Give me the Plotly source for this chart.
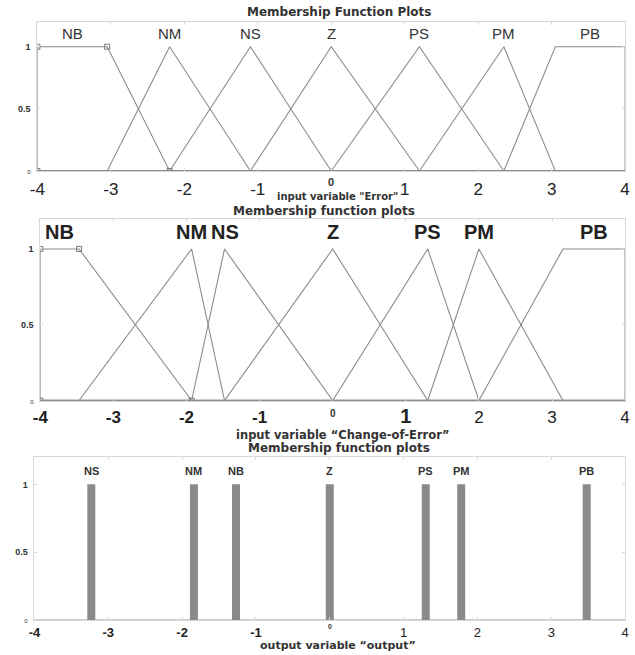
import plotly.graph_objects as go

# ---------------- data ----------------
error_names = ["NB", "NM", "NS", "Z", "PS", "PM", "PB"]
error_params = [[-4, -4, -3.05, -2.2], [-3.05, -2.2, -1.1], [-2.2, -1.1, 0.0],
                [-1.1, 0.0, 1.2], [0.0, 1.2, 2.35], [1.2, 2.35, 3.05], [2.35, 3.05, 4, 4]]

dedt_names = ["NB", "NM", "NS", "Z", "PS", "PM", "PB"]
dedt_params = [[-4, -4, -3.47, -1.93], [-3.47, -1.93, -1.48], [-1.93, -1.48, 0.0],
               [-1.48, 0.0, 1.3], [0.0, 1.3, 2.0], [1.3, 2.0, 3.15], [2.0, 3.15, 4, 4]]

output_names = ["NS", "NM", "NB", "Z", "PS", "PM", "PB"]
output_values = [-3.23, -1.84, -1.27, 0.0, 1.3, 1.78, 3.48]

x_ticks = [-4, -3, -2, -1, 0, 1, 2, 3, 4]
y_ticks = [0, 0.5, 1]
XMIN, XMAX = -4, 4

W, H = 635, 655
LINE = "#8c8c8c"
FONT = "Liberation Sans, Arial, sans-serif"
TFONT = "DejaVu Sans, Verdana, sans-serif"


def mf_curve(p):
    if len(p) == 3:
        a, b, c = p
        return [XMIN, a, b, c, XMAX], [0, 0, 1, 0, 0]
    a, b, c, d = p
    return [XMIN, a, b, c, d, XMAX], [0, 0, 1, 1, 0, 0]


def mf_center(p):
    if len(p) == 3:
        return p[1]
    return (p[1] + p[2]) / 2


def px(xp):
    return xp / W


def py(yp):
    return 1 - yp / H


fig = go.Figure()

panels = [
    dict(xd=(30, 630), yd=(22, 172)),
    dict(xd=(33, 630), yd=(220, 403)),
    dict(xd=(27, 630), yd=(460, 624)),
]

# --- baselines (heavier gray axis at membership 0)
for i, ax in enumerate(["", "2", "3"]):
    fig.add_trace(go.Scatter(x=[XMIN, XMAX], y=[0, 0], mode="lines",
                             line=dict(color="#9a9a9a", width=2 if i < 2 else 1.5),
                             xaxis="x" + ax, yaxis="y" + ax, showlegend=False, hoverinfo="skip"))

# --- panel 1: Error
for name, p in zip(error_names, error_params):
    xs, ys = mf_curve(p)
    fig.add_trace(go.Scatter(x=xs, y=ys, mode="lines", line=dict(color=LINE, width=1.1),
                             xaxis="x", yaxis="y", showlegend=False, hoverinfo="skip"))
    fig.add_annotation(x=mf_center(p), y=1.11, xref="x", yref="y", text=name, showarrow=False,
                       font=dict(family=FONT, size=15, color="#333"))
nb = error_params[0]
fig.add_trace(go.Scatter(x=[nb[0], nb[2], nb[3], nb[0]], y=[1, 1, 0, 0], mode="markers",
                         marker=dict(symbol="square-open", size=5, color="#777"),
                         xaxis="x", yaxis="y", showlegend=False, hoverinfo="skip"))

# --- panel 2: Change-of-Error
for name, p in zip(dedt_names, dedt_params):
    xs, ys = mf_curve(p)
    fig.add_trace(go.Scatter(x=xs, y=ys, mode="lines", line=dict(color=LINE, width=1.1),
                             xaxis="x2", yaxis="y2", showlegend=False, hoverinfo="skip"))
    fig.add_annotation(x=mf_center(p), y=1.11, xref="x2", yref="y2", text="<b>%s</b>" % name,
                       showarrow=False, font=dict(family=FONT, size=20, color="#222"))
nb = dedt_params[0]
fig.add_trace(go.Scatter(x=[nb[0], nb[2], nb[3], nb[0]], y=[1, 1, 0, 0], mode="markers",
                         marker=dict(symbol="square-open", size=5, color="#777"),
                         xaxis="x2", yaxis="y2", showlegend=False, hoverinfo="skip"))

# --- panel 3: output singletons
for name, v in zip(output_names, output_values):
    fig.add_trace(go.Scatter(x=[v, v], y=[0, 1], mode="lines", line=dict(color="#8a8a8a", width=8),
                             xaxis="x3", yaxis="y3", showlegend=False, hoverinfo="skip"))
    fig.add_annotation(x=v, y=1.1, xref="x3", yref="y3", text="<b>%s</b>" % name,
                       showarrow=False, font=dict(family=FONT, size=11, color="#333"))


def xtext(bold_neg=False, big_one=None):
    out = []
    for v in x_ticks:
        s = str(v)
        if v == 0:
            out.append("")  # drawn separately as a small raised label
        elif v < 0 and bold_neg:
            out.append("<b>%s</b>" % s)
        elif v == 1 and big_one:
            out.append('<span style="font-size:%dpx"><b>%s</b></span>' % (big_one, s))
        else:
            out.append(s)
    return out


ytext = ['<span style="font-size:6px">0</span>', "<b>0.5</b>", "<b>1</b>"]

xfonts = [17, 17, 13]
standoffs = [3, 1, 0]
zero_lbl = [(183, 11), (416, 10), (630, 7)]  # (y pixel, font size) of the small "0" tick label
for i, pan in enumerate(panels):
    sfx = "" if i == 0 else str(i + 1)
    xd = (px(pan["xd"][0]), px(pan["xd"][1]))
    yd = (py(pan["yd"][1]), py(pan["yd"][0]))
    fig.update_layout(**{
        "xaxis" + sfx: dict(domain=list(xd), range=[XMIN, XMAX], tickvals=x_ticks,
                            ticktext=xtext(bold_neg=(i > 0), big_one=(20 if i == 1 else None)),
                            showgrid=False, zeroline=False, showline=True, linecolor="#d8d8d8",
                            mirror="ticks", ticks="inside", ticklen=3, tickcolor="#d8d8d8",
                            ticklabelstandoff=standoffs[i],
                            tickfont=dict(family=FONT, size=xfonts[i], color="#222"),
                            anchor="y" + sfx, fixedrange=True),
        "yaxis" + sfx: dict(domain=list(yd), range=[0, 1.2], tickvals=y_ticks, ticktext=ytext,
                            showgrid=False, zeroline=False, showline=True, linecolor="#d8d8d8",
                            mirror="ticks", ticks="inside", ticklen=3, tickcolor="#d8d8d8",
                            ticklabelstandoff=4,
                            tickfont=dict(family=FONT, size=9, color="#333"),
                            anchor="x" + sfx, fixedrange=True),
    })
    zy, zf = zero_lbl[i]
    fig.add_annotation(x=x_ticks[4], y=py(zy), xref="x" + sfx, yref="paper", text="<b>0</b>",
                       showarrow=False, yanchor="middle",
                       font=dict(family=FONT, size=zf, color="#333"))

texts = [
    ("Membership Function Plots", 338, 12, 12),
    ('input variable "Error"', 336, 198, 10),
    ("Membership function plots", 323, 212, 12),
    ("input variable \u201cChange-of-Error\u201d", 342, 438, 11.5),
    ("Membership function plots", 338, 451, 12),
    ("output variable \u201coutput\u201d", 337, 649, 11),
]
for t, xp, yp, fs in texts:
    fig.add_annotation(x=px(xp), y=py(yp), xref="paper", yref="paper", text="<b>%s</b>" % t,
                       showarrow=False, xanchor="center", yanchor="middle",
                       font=dict(family=TFONT, size=fs, color="#333"))

fig.update_layout(width=W, height=H, margin=dict(l=0, r=0, t=0, b=0),
                  paper_bgcolor="white", plot_bgcolor="white", showlegend=False)

fig.write_html("out.html", config={"displayModeBar": False},
               post_script="document.body.style.margin='0';document.body.style.overflow='hidden';")
